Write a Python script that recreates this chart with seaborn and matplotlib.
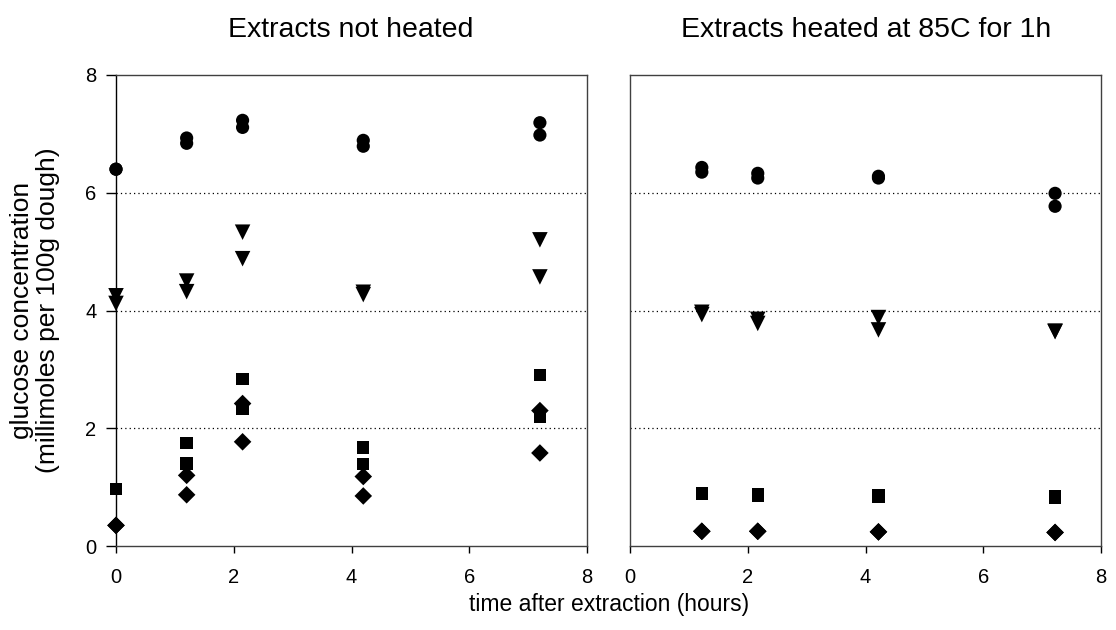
import numpy as np
import pandas as pd
import matplotlib
matplotlib.use("Agg")
import matplotlib.pyplot as plt
import seaborn as sns

sns.set_style("white")
plt.rcParams['font.family'] = ['Liberation Sans', 'DejaVu Sans']
plt.rcParams['text.color'] = 'black'
plt.rcParams['xtick.color'] = 'black'
plt.rcParams['ytick.color'] = 'black'

# ---- data ----
time_not_heated = [0, 0, 1.2, 1.2, 2.15, 2.15, 4.2, 4.2, 7.2, 7.2]
circle_not_heated = [6.40, 6.40, 6.93, 6.84, 7.23, 7.11, 6.89, 6.79, 7.19, 6.98]
triangle_not_heated = [4.25, 4.12, 4.50, 4.32, 5.33, 4.88, 4.31, 4.27, 5.20, 4.57]
square_not_heated = [0.97, 0.97, 1.75, 1.40, 2.84, 2.33, 1.67, 1.39, 2.90, 2.20]
diamond_not_heated = [0.35, 0.35, 1.20, 0.87, 2.42, 1.77, 1.18, 0.85, 2.30, 1.58]

time_heated = [1.22, 1.22, 2.17, 2.17, 4.22, 4.22, 7.22, 7.22]
circle_heated = [6.43, 6.35, 6.33, 6.25, 6.28, 6.25, 5.99, 5.77]
triangle_heated = [3.97, 3.93, 3.85, 3.78, 3.88, 3.67, 3.65, 3.64]
square_heated = [0.90, 0.88, 0.88, 0.86, 0.86, 0.83, 0.84, 0.82]
diamond_heated = [0.25, 0.25, 0.25, 0.25, 0.24, 0.24, 0.23, 0.23]

titles = ["Extracts not heated", "Extracts heated at 85C for 1h"]
series_names = ["circle", "triangle", "square", "diamond"]
xticks = [0, 2, 4, 6, 8]
yticks = [0, 2, 4, 6, 8]

def long_df(times, cols):
    rows = []
    for name, vals in zip(series_names, cols):
        for t, v in zip(times, vals):
            rows.append({"time": t, "glucose": v, "series": name})
    return pd.DataFrame(rows)

df_left = long_df(time_not_heated, [circle_not_heated, triangle_not_heated,
                                     square_not_heated, diamond_not_heated])
df_right = long_df(time_heated, [circle_heated, triangle_heated,
                                 square_heated, diamond_heated])

markers = {"circle": "o", "triangle": "v", "square": "s", "diamond": "D"}
sizes = {"circle": 90, "triangle": 125, "square": 80, "diamond": 80}

fig = plt.figure(figsize=(11.16, 6.3), dpi=100)
ax1 = fig.add_axes([116/1116, 84/630, 471/1116, 471/630])
ax2 = fig.add_axes([630/1116, 84/630, 471/1116, 471/630])

for ax, df, show_y in [(ax1, df_left, True), (ax2, df_right, False)]:
    for name in series_names:
        sub = df[df["series"] == name]
        sns.scatterplot(data=sub, x="time", y="glucose", marker=markers[name],
                        s=sizes[name], color="black", edgecolor="none",
                        linewidth=0, ax=ax, legend=False, zorder=3, clip_on=False)
    ax.set_xlim(0, 8)
    ax.set_ylim(0, 8)
    ax.set_xticks(xticks)
    ax.set_yticks(yticks)
    ax.set_xlabel("")
    ax.set_ylabel("")
    for y in [2, 4, 6]:
        ax.axhline(y, color="black", linestyle=(0, (1, 2.5)), linewidth=0.9, zorder=1)
    for side, sp in ax.spines.items():
        sp.set_visible(True)
        sp.set_color("#404040")
        sp.set_linewidth(1.0)
    if show_y:
        ax.spines["left"].set_color("black")
    ax.tick_params(axis="x", direction="out", length=5, width=1, labelsize=14.5,
                   bottom=True, colors="black", pad=11)
    if show_y:
        ax.tick_params(axis="y", direction="out", length=7, width=1, labelsize=14.5,
                       left=True, colors="black", pad=7)
    else:
        ax.tick_params(axis="y", left=False, labelleft=False)
    ax.set_facecolor("white")

fig.text(351/1116, 1 - 37/630, titles[0], ha="center", va="baseline", fontsize=20.5)
fig.text(866/1116, 1 - 37/630, titles[1], ha="center", va="baseline", fontsize=20.5)
fig.text(609/1116, 1 - 605/630, "time after extraction (hours)", ha="center",
         va="center", fontsize=16.5)
fig.text(35/1116, 1 - 310/630, "glucose concentration\n(millimoles per 100g dough)",
         ha="center", va="center", rotation=90, fontsize=19, linespacing=1.1)

fig.savefig("out.png", dpi=100, facecolor="white")
